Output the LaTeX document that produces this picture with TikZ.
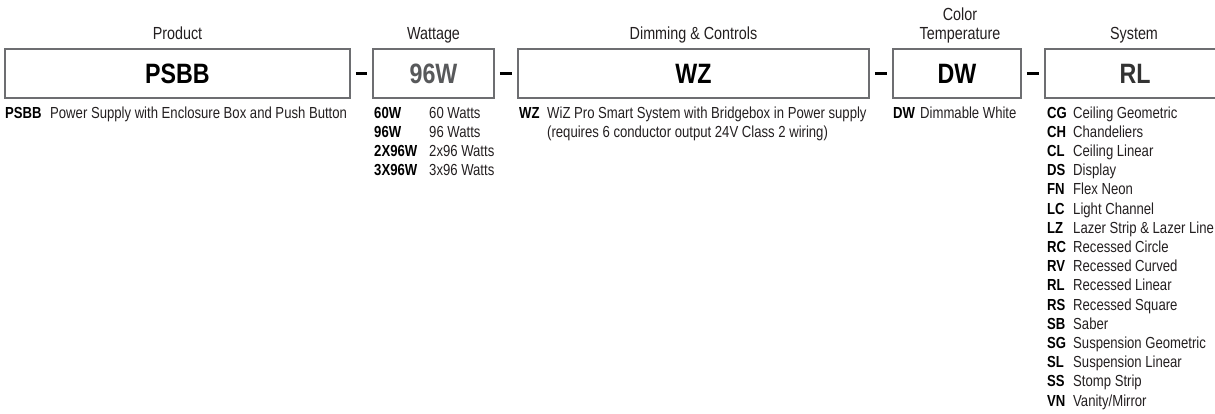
\documentclass[tikz,border=0pt]{standalone}
\usepackage{fontspec}
\setmainfont{Liberation Sans}[FakeStretch=0.82]
\newfontfamily\boxfont{Liberation Sans}[FakeStretch=0.83]
\definecolor{txt}{HTML}{231F20}
\definecolor{boxline}{HTML}{6D6E71}
\definecolor{midgray}{HTML}{58595B}
\definecolor{darkgray}{HTML}{333333}
\begin{document}
\begin{tikzpicture}[x=1pt,y=-1pt,
  hdr/.style={inner sep=0pt,anchor=base,text=txt,font=\fontsize{17.5}{19}\selectfont},
  codebox/.style={draw=boxline,line width=1.5pt,minimum height=49pt,inner sep=0pt,
     font=\boxfont\bfseries\fontsize{28}{30}\selectfont},
  joint/.style={line width=2.8pt,black,shorten >=5pt,shorten <=5pt},
  code/.style={inner sep=0pt,anchor=base west,text=black,font=\bfseries\fontsize{16}{18}\selectfont},
  desc/.style={inner sep=0pt,anchor=base west,text=txt,font=\fontsize{16}{18}\selectfont}]
\useasboundingbox (0,0) rectangle (1215,413);

% headers
\node[hdr] (hprod) at (177.5,39) {Product};
\node[hdr] (hwatt) at (433.5,39) {Wattage};
\node[hdr] (hdim)  at (693.5,39) {Dimming \& Controls};
\node[hdr] (hcol1) at (960,20) {Color};
\node[hdr] (hcol2) at (960,39) {Temperature};
\node[hdr] (hsys)  at (1134,39) {System};

% boxes
\node[codebox,minimum width=345pt,text=black]    (b1) at (177.5,73.5) {PSBB};
\node[codebox,minimum width=121pt,text=midgray]  (b2) at (433.5,73.5) {96W};
\node[codebox,minimum width=351pt,text=black]    (b3) at (693.5,73.5) {WZ};
\node[codebox,minimum width=128pt,text=black]    (b4) at (957,73.5) {DW};
\node[codebox,minimum width=180pt,text=darkgray] (b5) at (1135,73.5) {RL};

% joints
\draw[joint] (b1) -- (b2);
\draw[joint] (b2) -- (b3);
\draw[joint] (b3) -- (b4);
\draw[joint] (b4) -- (b5);

% product
\node[code] (c1) at (5,118) {PSBB};
\node[desc] (d1) at (50,118) {Power Supply with Enclosure Box and Push Button};

% wattage
\node[code] (w1) at (374,118) {60W};
\node[desc] (wd1) at (429,118) {60 Watts};
\node[code] (w2) at (374,137.2) {96W};
\node[desc] (wd2) at (429,137.2) {96 Watts};
\node[code] (w3) at (374,156.4) {2X96W};
\node[desc] (wd3) at (429,156.4) {2x96 Watts};
\node[code] (w4) at (374,175.6) {3X96W};
\node[desc] (wd4) at (429,175.6) {3x96 Watts};

% dimming
\node[code] (z1) at (519,118) {WZ};
\node[desc] (zd1) at (547,118) {WiZ Pro Smart System with Bridgebox in Power supply};
\node[desc] (zd2) at (547,137.2) {(requires 6 conductor output 24V Class 2 wiring)};

% colour
\node[code] (t1) at (893,118) {DW};
\node[desc] (td1) at (920,118) {Dimmable White};

% system
\node[code] (s1)  at (1047,118.0) {CG};  \node[desc] (sd1)  at (1073,118.0) {Ceiling Geometric};
\node[code] (s2)  at (1047,137.2) {CH};  \node[desc] (sd2)  at (1073,137.2) {Chandeliers};
\node[code] (s3)  at (1047,156.4) {CL};  \node[desc] (sd3)  at (1073,156.4) {Ceiling Linear};
\node[code] (s4)  at (1047,175.6) {DS};  \node[desc] (sd4)  at (1073,175.6) {Display};
\node[code] (s5)  at (1047,194.8) {FN};  \node[desc] (sd5)  at (1073,194.8) {Flex Neon};
\node[code] (s6)  at (1047,214.0) {LC};  \node[desc] (sd6)  at (1073,214.0) {Light Channel};
\node[code] (s7)  at (1047,233.2) {LZ};  \node[desc] (sd7)  at (1073,233.2) {Lazer Strip \& Lazer Line};
\node[code] (s8)  at (1047,252.4) {RC};  \node[desc] (sd8)  at (1073,252.4) {Recessed Circle};
\node[code] (s9)  at (1047,271.6) {RV};  \node[desc] (sd9)  at (1073,271.6) {Recessed Curved};
\node[code] (s10) at (1047,290.8) {RL};  \node[desc] (sd10) at (1073,290.8) {Recessed Linear};
\node[code] (s11) at (1047,310.0) {RS};  \node[desc] (sd11) at (1073,310.0) {Recessed Square};
\node[code] (s12) at (1047,329.2) {SB};  \node[desc] (sd12) at (1073,329.2) {Saber};
\node[code] (s13) at (1047,348.4) {SG};  \node[desc] (sd13) at (1073,348.4) {Suspension Geometric};
\node[code] (s14) at (1047,367.6) {SL};  \node[desc] (sd14) at (1073,367.6) {Suspension Linear};
\node[code] (s15) at (1047,386.8) {SS};  \node[desc] (sd15) at (1073,386.8) {Stomp Strip};
\node[code] (s16) at (1047,406.0) {VN};  \node[desc] (sd16) at (1073,406.0) {Vanity/Mirror};
\end{tikzpicture}
\end{document}
